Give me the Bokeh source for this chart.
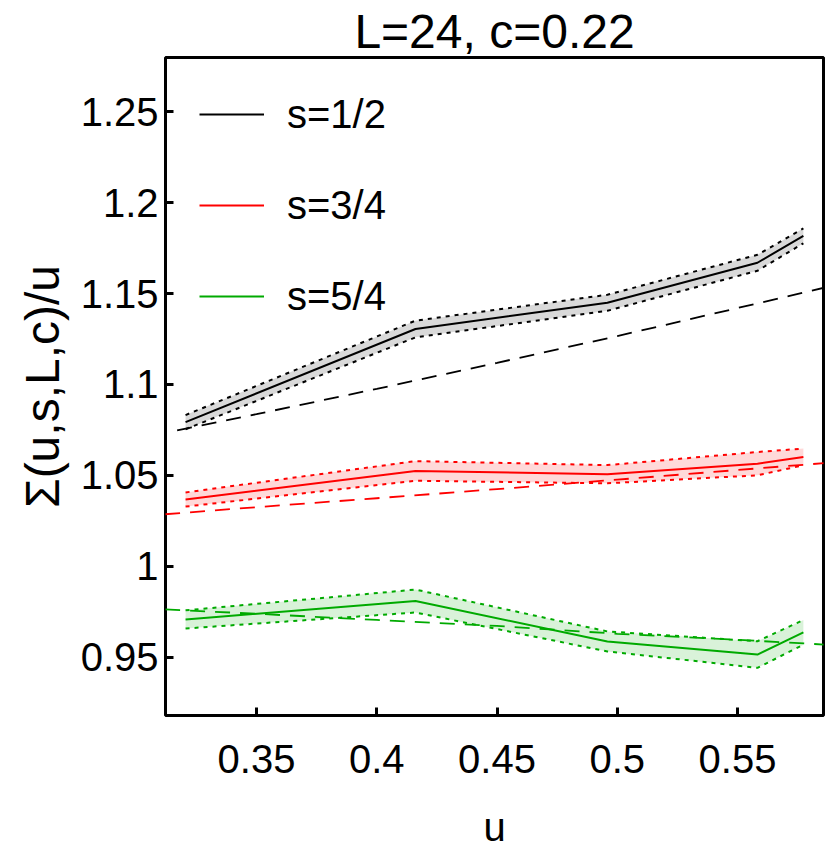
from bokeh.plotting import figure
from bokeh.models import Range1d, FixedTicker, Legend, LegendItem, CustomJSTickFormatter, Title
from bokeh.embed import file_html
from bokeh.resources import INLINE

# ---- data ----
u_mc = [0.3205, 0.4161, 0.4959, 0.5583, 0.5774]
sig_12 = [1.0793, 1.1305, 1.1449, 1.1669, 1.1817]
err_12 = [0.0039, 0.0046, 0.0044, 0.0044, 0.0041]
sig_34 = [1.0368, 1.0525, 1.0507, 1.0565, 1.0602]
err_34 = [0.0039, 0.0054, 0.0050, 0.0064, 0.0046]
sig_54 = [0.9709, 0.9810, 0.9588, 0.9516, 0.9638]
err_54 = [0.0050, 0.0063, 0.0055, 0.0073, 0.0068]

u_th_12 = [0.317, 0.35, 0.40, 0.45, 0.50, 0.55, 0.586]
th_12 = [1.0748, 1.0837, 1.0976, 1.1119, 1.1266, 1.1420, 1.1532]
u_th = [0.312, 0.35, 0.40, 0.45, 0.50, 0.55, 0.586]
th_34 = [1.0287, 1.0326, 1.0375, 1.0425, 1.0477, 1.0530, 1.0568]
th_54 = [0.9764, 0.9740, 0.9706, 0.9673, 0.9630, 0.9597, 0.9571]

labels = ["s=1/2", "s=3/4", "s=5/4"]
colors = ["#000000", "#ff0000", "#00aa00"]

x_ticks = [0.35, 0.40, 0.45, 0.50, 0.55]
x_tick_labels = ["0.35", "0.4", "0.45", "0.5", "0.55"]
y_ticks = [0.95, 1.00, 1.05, 1.10, 1.15, 1.20, 1.25]
y_tick_labels = ["0.95", "1", "1.05", "1.1", "1.15", "1.2", "1.25"]

title_text = "L=24, c=0.22"
x_label = "u"
y_label = "\u03a3(u,s,L,c)/u"

FONT = "Liberation Sans"

p = figure(width=826, height=856, output_backend="svg", toolbar_location=None,
           title=title_text,
           x_range=Range1d(0.31216, 0.58576), y_range=Range1d(0.9181, 1.2797),
           min_border_left=165, min_border_right=3, min_border_top=57, min_border_bottom=141)
p.background_fill_color = "white"
p.border_fill_color = "white"
p.outline_line_color = "black"
p.outline_line_width = 3
p.grid.visible = False

p.title.align = "center"
p.title.text_font = FONT
p.title.text_font_size = "48px"
p.title.text_font_style = "normal"
p.title.text_color = "black"
p.title.standoff = 0

fmt_js = """
for (let i = 0; i < tvals.length; i++) { if (Math.abs(tvals[i] - tick) < 1e-9) return tlabs[i]; }
return '';
"""
p.xaxis.ticker = FixedTicker(ticks=x_ticks)
p.xaxis.formatter = CustomJSTickFormatter(args=dict(tvals=x_ticks, tlabs=x_tick_labels), code=fmt_js)
p.yaxis.ticker = FixedTicker(ticks=y_ticks)
p.yaxis.formatter = CustomJSTickFormatter(args=dict(tvals=y_ticks, tlabs=y_tick_labels), code=fmt_js)

for ax in (p.xaxis[0], p.yaxis[0]):
    ax.axis_line_color = None
    ax.major_tick_in = 8
    ax.major_tick_out = 0
    ax.major_tick_line_width = 3
    ax.major_tick_line_color = "black"
    ax.minor_tick_line_color = None
    ax.major_label_text_font = FONT
    ax.major_label_text_font_size = "40px"
    ax.major_label_text_color = "black"
    ax.axis_label_text_font = FONT
    ax.axis_label_text_font_style = "normal"
    ax.axis_label_text_color = "black"

p.xaxis.axis_label = x_label
p.xaxis.axis_label_text_font_size = "40px"
p.xaxis.major_label_standoff = 29
p.xaxis.axis_label_standoff = 29
p.yaxis.major_label_standoff = 7

# vertical axis title, placed in the left panel outside the tick labels
ytitle = Title(text=y_label, align="center", text_font=FONT, text_font_size="48px",
               text_font_style="normal", text_color="black", standoff=18, offset=-25)
p.add_layout(ytitle, "left")

series = [(sig_12, err_12, u_th_12, th_12), (sig_34, err_34, u_th, th_34), (sig_54, err_54, u_th, th_54)]
items = []
for (sig, err, ux, th), col, lab in zip(series, colors, labels):
    lo = [s - e for s, e in zip(sig, err)]
    hi = [s + e for s, e in zip(sig, err)]
    p.varea(x=u_mc, y1=lo, y2=hi, fill_color=col, fill_alpha=0.15)
    p.line(u_mc, hi, line_color=col, line_width=2, line_dash="4 5")
    p.line(u_mc, lo, line_color=col, line_width=2, line_dash="4 5")
    p.line(ux, th, line_color=col, line_width=1.8, line_dash="15 10")
    r = p.line(u_mc, sig, line_color=col, line_width=2)
    items.append(LegendItem(label=lab, renderers=[r]))

legend = Legend(items=items, location="top_left", margin=34, padding=0,
                glyph_width=65, glyph_height=46, label_height=46, label_standoff=23,
                spacing=45, border_line_color=None, background_fill_alpha=0,
                label_text_font=FONT, label_text_font_size="40px", label_text_color="black")
p.add_layout(legend, "center")

open("out.html", "w").write(file_html(p, INLINE))
